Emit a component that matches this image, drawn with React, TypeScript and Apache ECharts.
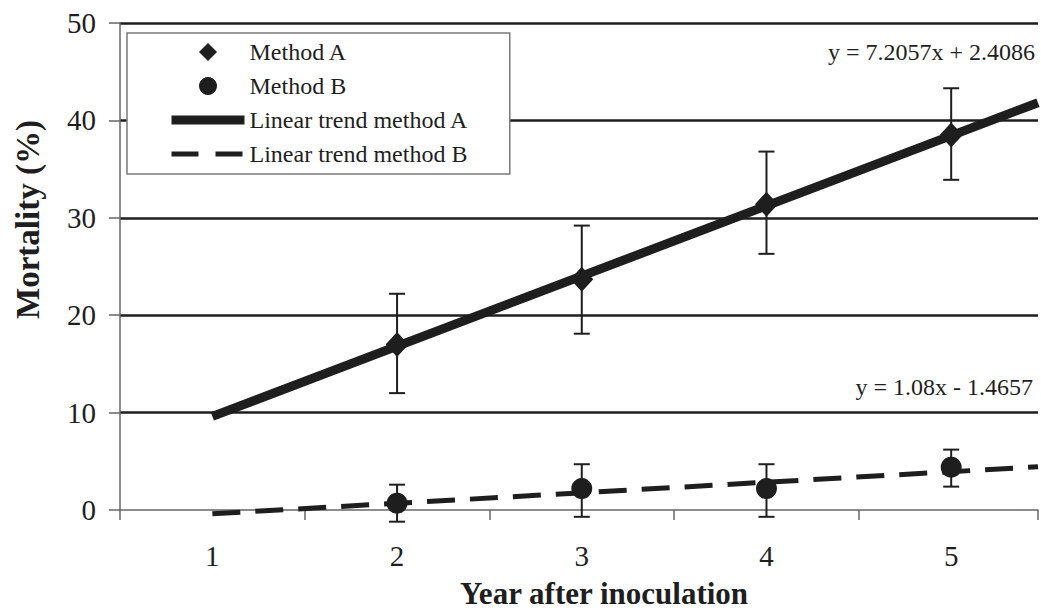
import React, { useEffect, useRef } from "react";
import * as echarts from "echarts";

// ---- data ----
const years = [2, 3, 4, 5];
const methodA = [17.0, 23.7, 31.4, 38.5];
const methodALow = [12.0, 18.1, 26.3, 33.9];
const methodAHigh = [22.2, 29.2, 36.8, 43.3];
const methodB = [0.7, 2.2, 2.2, 4.4];
const methodBLow = [-1.2, -0.7, -0.7, 2.4];
const methodBHigh = [2.6, 4.7, 4.7, 6.2];
const trendX = [1, 5.47];
const trendA = [9.61, 41.82];
const trendB = [-0.39, 4.44];
const yTicks = [0, 10, 20, 30, 40, 50];
const xLabels = ["1", "2", "3", "4", "5"];
const eqA = "y = 7.2057x + 2.4086";
const eqB = "y = 1.08x - 1.4657";

const FONT = "Liberation Serif";
const INK = "#1e1e1e";
const DIAMOND = "path://M0,-10L10,0L0,10L-10,0Z";

export default function App() {
  const ref = useRef<HTMLDivElement>(null);

  useEffect(() => {
    if (!ref.current) return;
    const chart = echarts.init(ref.current, undefined, { renderer: "svg" });

    const errA = years.map((x, i) => [x, methodALow[i], methodAHigh[i]]);
    const errB = years.map((x, i) => [x, methodBLow[i], methodBHigh[i]]);

    const errRender = (params: any, api: any) => {
      const x = api.value(0);
      const lo = api.coord([x, api.value(1)]);
      const hi = api.coord([x, api.value(2)]);
      const hw = 8;
      const st = { stroke: INK, lineWidth: 2 };
      return {
        type: "group",
        children: [
          { type: "line", shape: { x1: lo[0], y1: lo[1], x2: hi[0], y2: hi[1] }, style: st },
          { type: "line", shape: { x1: hi[0] - hw, y1: hi[1], x2: hi[0] + hw, y2: hi[1] }, style: st },
          { type: "line", shape: { x1: lo[0] - hw, y1: lo[1], x2: lo[0] + hw, y2: lo[1] }, style: st },
        ],
      };
    };

    chart.setOption({
      animation: false,
      backgroundColor: "#ffffff",
      textStyle: { fontFamily: FONT, color: INK },
      grid: { left: 120, right: 0, top: 23, bottom: 105, containLabel: false },
      legend: {
        orient: "vertical",
        left: 127,
        top: 33,
        padding: [7, 41, 8, 40],
        itemWidth: 73,
        itemHeight: 18,
        itemGap: 10,
        symbolKeepAspect: true,
        backgroundColor: "#ffffff",
        borderColor: "#7a7a7a",
        borderWidth: 1.5,
        borderRadius: 0,
        textStyle: { fontFamily: FONT, fontSize: 24, color: INK, lineHeight: 24 },
        selectedMode: false,
        data: [
          { name: "Method A", icon: DIAMOND, itemStyle: { color: INK } },
          { name: "Method B", icon: "circle", itemStyle: { color: INK } },
          {
            name: "Linear trend method A",
            itemStyle: { opacity: 0 },
            lineStyle: { width: 9, type: "solid", color: INK, opacity: 1 },
          },
          {
            name: "Linear trend method B",
            itemStyle: { opacity: 0 },
            lineStyle: { width: 5, type: [27, 17], color: INK, opacity: 1 },
          },
        ],
      },
      xAxis: [
        {
          type: "value",
          position: "bottom",
          min: 0.5,
          max: 5.47,
          interval: 1,
          axisLine: { show: true, lineStyle: { color: "#666", width: 1.5 } },
          axisTick: { show: true, inside: false, length: 10, lineStyle: { color: "#666", width: 1.5 } },
          axisLabel: { show: false },
          splitLine: { show: false },
          name: "Year after inoculation",
          nameLocation: "middle",
          nameGap: 68,
          nameTextStyle: { fontFamily: FONT, fontSize: 31, fontWeight: "bold", color: INK, padding: [0, 0, 0, 50] },
        },
        {
          type: "value",
          position: "bottom",
          min: 0.5,
          max: 5.47,
          interval: 0.5,
          axisLine: { show: false },
          axisTick: { show: false },
          splitLine: { show: false },
          axisLabel: {
            show: true,
            margin: 31,
            fontFamily: FONT,
            fontSize: 29,
            color: INK,
            formatter: (v: number) => {
              const idx = xLabels.indexOf(String(v));
              return idx >= 0 ? xLabels[idx] : "";
            },
          },
        },
      ],
      yAxis: {
        type: "value",
        min: yTicks[0],
        max: yTicks[yTicks.length - 1],
        interval: 10,
        axisLine: { show: true, lineStyle: { color: "#666", width: 1.5 } },
        axisTick: { show: true, inside: false, length: 11, lineStyle: { color: "#666", width: 1.5 } },
        axisLabel: { margin: 24, fontFamily: FONT, fontSize: 29, color: INK },
        splitLine: { show: true, showMinLine: false, lineStyle: { color: INK, width: 2.5 } },
        name: "Mortality (%)",
        nameLocation: "middle",
        nameGap: 76,
        nameTextStyle: { fontFamily: FONT, fontSize: 33, fontWeight: "bold", color: INK, padding: [0, 0, 0, 94] },
      },
      series: [
        {
          name: "errA",
          type: "custom",
          xAxisIndex: 0,
          renderItem: errRender,
          encode: { x: 0, y: [1, 2] },
          data: errA,
          clip: false,
          z: 1,
        },
        {
          name: "errB",
          type: "custom",
          xAxisIndex: 0,
          renderItem: errRender,
          encode: { x: 0, y: [1, 2] },
          data: errB,
          clip: false,
          z: 1,
        },
        {
          name: "Linear trend method A",
          type: "line",
          xAxisIndex: 0,
          data: trendX.map((x, i) => [x, trendA[i]]),
          symbol: "none",
          clip: false,
          lineStyle: { color: INK, width: 9, cap: "butt" },
          itemStyle: { color: INK },
          z: 3,
        },
        {
          name: "Linear trend method B",
          type: "line",
          xAxisIndex: 0,
          data: trendX.map((x, i) => [x, trendB[i]]),
          symbol: "none",
          clip: false,
          lineStyle: { color: INK, width: 5, type: [28, 15] },
          itemStyle: { color: INK },
          z: 3,
        },
        {
          name: "Method A",
          type: "scatter",
          xAxisIndex: 0,
          symbol: "diamond",
          symbolSize: [23, 25],
          data: years.map((x, i) => [x, methodA[i]]),
          itemStyle: { color: INK, opacity: 1 },
          clip: false,
          z: 4,
        },
        {
          name: "Method B",
          type: "scatter",
          xAxisIndex: 0,
          symbol: "circle",
          symbolSize: 21,
          data: years.map((x, i) => [x, methodB[i]]),
          itemStyle: { color: INK, opacity: 1 },
          clip: false,
          z: 4,
        },
      ],
      graphic: [
        {
          type: "text",
          right: 6,
          top: 40,
          style: { text: eqA, fontFamily: FONT, fontSize: 24, fill: INK },
          z: 10,
        },
        {
          type: "text",
          right: 8,
          top: 375,
          style: { text: eqB, fontFamily: FONT, fontSize: 24, fill: INK },
          z: 10,
        },
      ],
    });

    return () => chart.dispose();
  }, []);

  return (
    <div
      ref={ref}
      style={{ position: "fixed", left: 0, top: 0, width: 1041, height: 615, background: "#fff" }}
    />
  );
}
